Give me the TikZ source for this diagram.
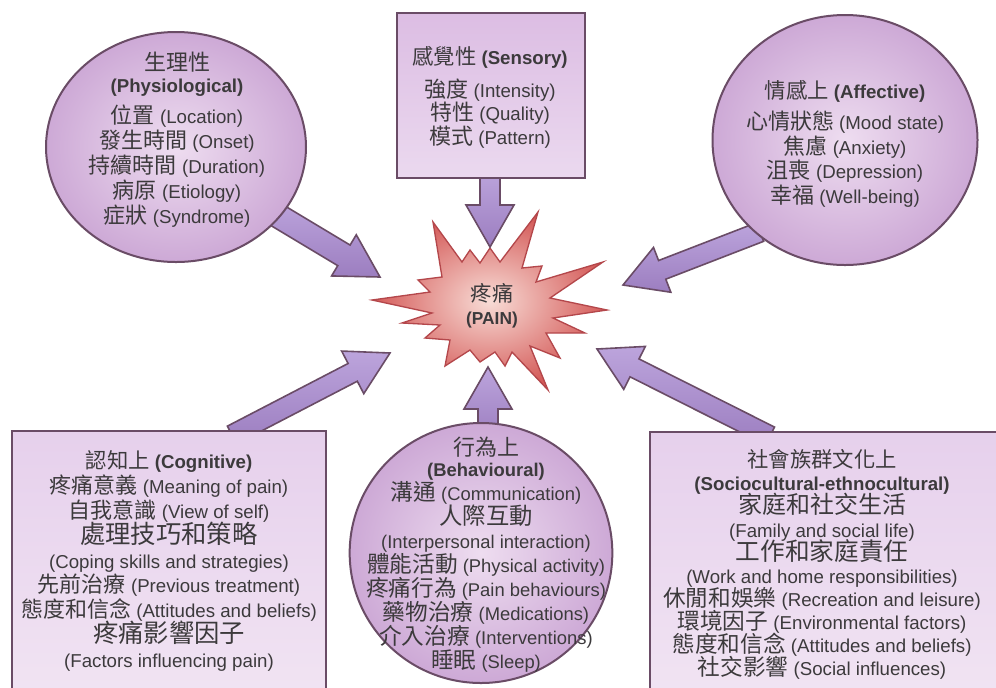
\documentclass[tikz,border=0pt]{standalone}
\usepackage{fontspec}
\setmainfont{Liberation Sans}
\newfontfamily\cjk{Noto Sans CJK TC}
\usetikzlibrary{calc,shapes.geometric}
\pgfdeclarelayer{bg}
\pgfsetlayers{bg,main}
\definecolor{txtc}{HTML}{3C3A3C}
\definecolor{edgec}{HTML}{6A4C66}
\definecolor{lavA}{HTML}{EEDDF0}
\definecolor{lavB}{HTML}{CDA9D6}
\definecolor{boxA}{HTML}{E6D0EC}
\definecolor{boxB}{HTML}{F1E4F3}
\definecolor{sboxA}{HTML}{DCBDE3}
\definecolor{sboxB}{HTML}{EBD9EF}
\definecolor{arrA}{HTML}{BCA4DC}
\definecolor{arrB}{HTML}{9C7EC0}
\definecolor{starIn}{HTML}{F8DCD6}
\definecolor{starOut}{HTML}{D45A58}
\definecolor{starEdge}{HTML}{B4474B}
\newcommand\zh[2][16.5]{{\cjk\fontsize{#1}{\baselineskip}\selectfont #2}}
\newcommand\blockarrow[3][7.5]{%
  \draw[blockarr] let \p1=(#2), \p2=(#3),
    \n1={atan2(\y2-\y1,\x2-\x1)},
    \n2={veclen(\x2-\x1,\y2-\y1)-31.5} in
    ($(\p1)+(\n1+90:#1pt)$) --
    ($(\p1)+(\n1:\n2*1pt)+(\n1+90:#1pt)$) --
    ($(\p1)+(\n1:\n2*1pt)+(\n1+90:18pt)$) --
    (\p2) --
    ($(\p1)+(\n1:\n2*1pt)+(\n1-90:18pt)$) --
    ($(\p1)+(\n1:\n2*1pt)+(\n1-90:#1pt)$) --
    ($(\p1)+(\n1-90:#1pt)$) -- cycle;}
\tikzset{
  blob/.style={ellipse, draw=edgec, line width=1.5pt, inner color=lavA, outer color=lavB, outer sep=0pt},
  panel/.style={rectangle, draw=edgec, line width=1.5pt, top color=boxA, bottom color=boxB, outer sep=0pt, anchor=north west},
  txtnode/.style={text=txtc, align=center, inner sep=0pt},
  blockarr/.style={draw=edgec, line width=1.2pt, top color=arrA, bottom color=arrB, line join=miter},
  starpath/.style={draw=starEdge, line width=1pt, inner color=starIn, outer color=starOut, line join=miter}
}
\lineskiplimit=-100pt
\begin{document}
\begin{tikzpicture}[x=0.75pt,y=-0.75pt]
\useasboundingbox (0,0) rectangle (996,687);
\clip (0,0) rectangle (996,687);

% shapes
\node[blob, minimum width=195pt, minimum height=172.5pt] (phys) at (176,147) {};
\node[panel, top color=sboxA, bottom color=sboxB, minimum width=141pt, minimum height=123.75pt] (sens) at (397,13) {};
\node[blob, minimum width=198.75pt, minimum height=187.5pt] (aff) at (845,140) {};
\node[panel, minimum width=235.5pt, minimum height=201.75pt] (cog) at (12,431) {};
\node[blob, minimum width=197pt, minimum height=195pt] (beh) at (481,553) {};
\node[panel, minimum width=266.25pt, minimum height=201pt] (soc) at (650,432) {};

% centre text
\node[txtnode, font=\fontsize{13}{17.25}\selectfont] (pain) at (492,306) {\zh[16]{疼痛}\\\textbf{(PAIN)}};

% connector end points
\coordinate (sPhys) at (270,211);  \coordinate (tPhys) at (380,277);
\coordinate (sSens) at (490,170);  \coordinate (tSens) at (490,247);
\coordinate (sAff)  at (760,232);  \coordinate (tAff)  at (623,285);
\coordinate (sCog)  at (232,435);  \coordinate (tCog)  at (390,353);
\coordinate (sBeh)  at (488,440);  \coordinate (tBeh)  at (488,367);
\coordinate (sSoc)  at (770,436);  \coordinate (tSoc)  at (597,349);

\begin{pgfonlayer}{bg}
\fill[white] (0,0) rectangle (996,687);
\shadedraw[starpath] (433,222) -- (462,262) -- (470,250) -- (480,263) -- (490,248) -- (500,262)
  -- (538,212) -- (522,268) -- (542,266) -- (536,282) -- (603,262) -- (550,298)
  -- (607,310) -- (553,318) -- (585,333) -- (546,333) -- (560,358) -- (530,346)
  -- (548,390) -- (512,352) -- (505,366) -- (495,352) -- (480,362) -- (470,350)
  -- (445,366) -- (450,340) -- (425,338) -- (440,325) -- (402,323) -- (432,313)
  -- (372,300) -- (430,292) -- (418,280) -- (442,277) -- cycle;
\blockarrow[9]{sPhys}{tPhys}
\blockarrow{sSens}{tSens}
\blockarrow{sAff}{tAff}
\blockarrow{sCog}{tCog}
\blockarrow{sBeh}{tBeh}
\blockarrow{sSoc}{tSoc}
\end{pgfonlayer}

% texts
\node[txtnode, font=\fontsize{14}{18.75}\selectfont] (physT) at (177,140)
 {\zh[16.5]{生理性}\\[-2.25pt]\textbf{(Physiological)}\\[4.5pt]\zh{位置} (Location)\\\zh{發生時間} (Onset)\\\zh{持續時間} (Duration)\\\zh{病原} (Etiology)\\\zh{症狀} (Syndrome)};

\node[txtnode, font=\fontsize{14}{17.6}\selectfont] (sensT) at (490,97)
 {\zh[16]{感覺性} \textbf{(Sensory)}\\[7pt]\zh{強度} (Intensity)\\\zh{特性} (Quality)\\\zh{模式} (Pattern)};

\node[txtnode, font=\fontsize{14}{18.4}\selectfont] (affT) at (845,144)
 {\zh[16]{情感上} \textbf{(Affective)}\\[4.9pt]\zh{心情狀態} (Mood state)\\\zh{焦慮} (Anxiety)\\\zh{沮喪} (Depression)\\\zh{幸福} (Well-being)};

\node[txtnode, font=\fontsize{14}{18.6}\selectfont] (cogT) at (169,561)
 {\zh[16]{認知上} \textbf{(Cognitive)}\\\zh{疼痛意義} (Meaning of pain)\\\zh{自我意識} (View of self)\\\zh[19]{處理技巧和策略}\\(Coping skills and strategies)\\\zh{先前治療} (Previous treatment)\\\zh{態度和信念} (Attitudes and beliefs)\\\zh[19]{疼痛影響因子}\\(Factors influencing pain)};

\node[txtnode, font=\fontsize{13.8}{18}\selectfont] (behT) at (486,555)
 {\zh[16.5]{行為上}\\[-2.25pt]\textbf{(Behavioural)}\\\zh[17]{溝通} (Communication)\\\zh[17.5]{人際互動}\\(Interpersonal interaction)\\\zh[17]{體能活動} (Physical activity)\\\zh[17]{疼痛行為} (Pain behaviours)\\\zh[17]{藥物治療} (Medications)\\\zh[17]{介入治療} (Interventions)\\\zh[17]{睡眠} (Sleep)};

\node[txtnode, font=\fontsize{14}{17.3}\selectfont] (socT) at (822,564.5)
 {\zh[16]{社會族群文化上}\\\textbf{(Sociocultural-ethnocultural)}\\\zh[18]{家庭和社交生活}\\(Family and social life)\\\zh[18.5]{工作和家庭責任}\\(Work and home responsibilities)\\\zh[17]{休閒和娛樂} (Recreation and leisure)\\\zh[17]{環境因子} (Environmental factors)\\\zh[17]{態度和信念} (Attitudes and beliefs)\\\zh[17]{社交影響} (Social influences)};
\end{tikzpicture}
\end{document}
